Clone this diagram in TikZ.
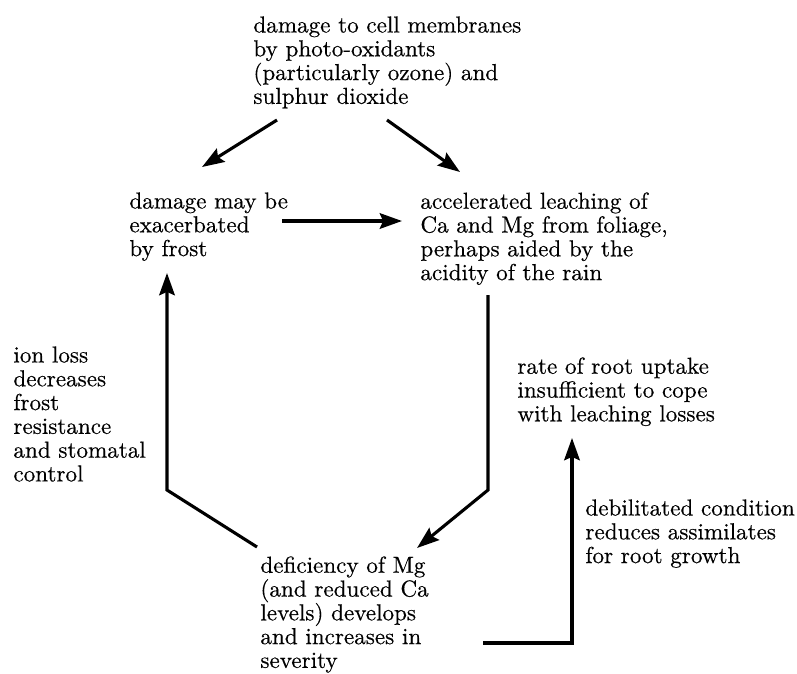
\documentclass[tikz,border=0pt]{standalone}
\usepackage{fontspec}
\setmainfont{Latin Modern Roman}[FakeBold=0.4]
\usepackage{tikz}
\usetikzlibrary{arrows.meta}
\newcommand{\drawlink}{\draw[line width=1.4pt, -{Stealth[length=10pt,width=7pt,inset=1.5pt]}]}

\begin{document}
\begin{tikzpicture}[x=0.45pt, y=-0.45pt,
    block/.style={anchor=north west, inner sep=0pt, align=left,
      font={\fontsize{10.4pt}{10.7pt}\selectfont}}]
    \useasboundingbox (0,0) rectangle (797,673);

    % Text blocks
    \node[block] (ozone) at (253,16) {damage to cell membranes\\by photo-oxidants\\(particularly ozone) and\\sulphur dioxide};
    \node[block] (frost) at (129,192) {damage may be\\exacerbated\\by frost};
    \node[block] (leach) at (420,192) {accelerated leaching of\\Ca and Mg from foliage,\\perhaps aided by the\\acidity of the rain};
    \node[block] (ionloss) at (13,346) {ion loss\\decreases\\frost\\resistance\\and stomatal\\control};
    \node[block] (uptake) at (517,357) {rate of root uptake\\insufficient to cope\\with leaching losses};
    \node[block] (debil) at (585,499) {debilitated condition\\reduces assimilates\\for root growth};
    \node[block] (defic) at (260,556) {deficiency of Mg\\(and reduced Ca\\levels) develops\\and increases in\\severity};

    % Draw arrows
    \drawlink ([shift={(24,104)}]ozone.north west) -- ([shift={(73,-25)}]frost.north west);
    \drawlink ([shift={(134,104)}]ozone.north west) -- ([shift={(40,-20)}]leach.north west);
    \drawlink ([shift={(153,29)}]frost.north west) -- ([shift={(-18,29)}]leach.north west);
    \drawlink ([shift={(68,103)}]leach.north west) -- ([shift={(68,298)}]leach.north west)
        -- ([shift={(157,-8)}]defic.north west);
    \drawlink ([shift={(-3,-9)}]defic.north west) -- ([shift={(38,298)}]frost.north west)
        -- ([shift={(38,81)}]frost.north west);
    \drawlink ([shift={(223,87)}]defic.north west) -| ([shift={(55,81)}]uptake.north west);
\end{tikzpicture}
\end{document}
